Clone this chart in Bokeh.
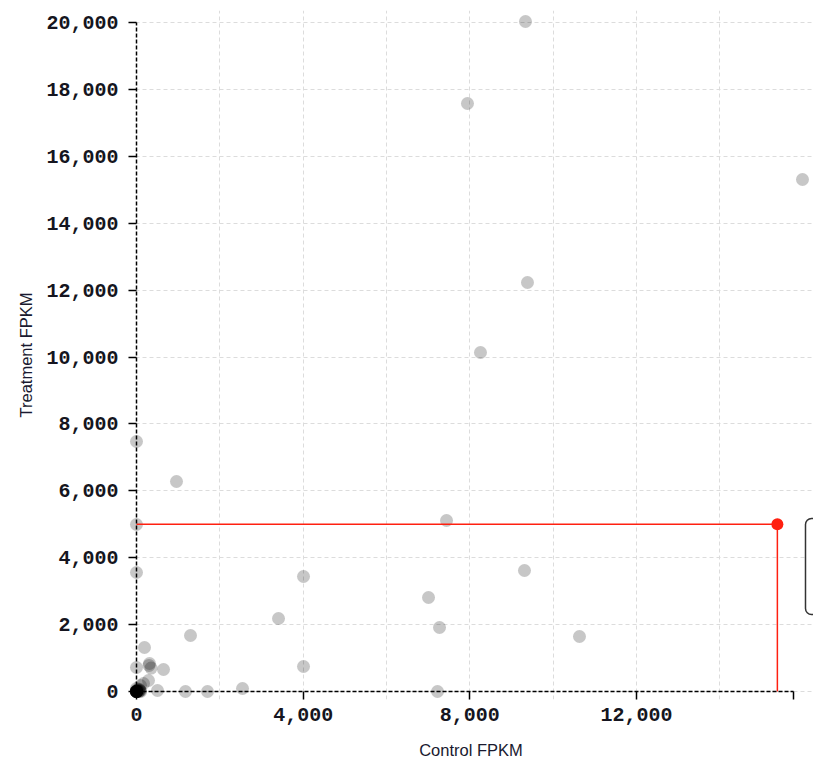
from bokeh.plotting import figure
from bokeh.models import FixedTicker, NumeralTickFormatter, Range1d, LinearAxis, BoxAnnotation
from bokeh.embed import file_html
from bokeh.resources import INLINE

# Gene expression values (FPKM)
control = [9335, 7943, 15983, 9383, 8255, 0, 960, 0, 7440, 0, 4008, 3408, 7008,
           9311, 7272, 10631, 1296, 192, 0, 312, 300, 350, 648, 4008, 288, 168,
           96, 504, 1176, 1704, 2544, 7224,
           0, 0, 0, 0, 0, 0, 0, 0, 0, 0, 0, 0, 0, 0, 0, 20, 40, 60, 80,
           100, 0, 70, 50, 0, 90]
treatment = [20030, 17578, 15306, 12227, 10135, 7474, 6278, 4993, 5112, 3558, 3438,
             2182, 2810, 3617, 1913, 1644, 1674, 1315, 717, 837, 780, 700, 658, 747,
             329, 239, 179, 30, 0, 0, 90, 0,
             0, 0, 0, 0, 0, 0, 0, 0, 0, 0, 0, 0, 0, 0, 0, 30, 10, 50, 20,
             0, 90, 70, 0, 40, 30]

# Highlighted gene
hl_control = 15380
hl_treatment = 5000

x_axis_ticks = [0, 4000, 8000, 12000, 15770]
x_label_ticks = [0, 4000, 8000, 12000]
x_grid_ticks = [2000, 4000, 6000, 8000, 10000, 12000, 14000]
y_ticks = [0, 2000, 4000, 6000, 8000, 10000, 12000, 14000, 16000, 18000, 20000]
x_domain = (0, 15770)
y_domain = (0, 20000)

p = figure(width=813, height=768, output_backend="svg", toolbar_location=None,
           title=None, x_range=Range1d(-192, 16247), y_range=Range1d(-239, 20359),
           min_border_left=128, min_border_right=0, min_border_top=10,
           min_border_bottom=69)
p.outline_line_color = None
p.background_fill_color = "white"

# grid
p.xgrid.ticker = FixedTicker(ticks=x_grid_ticks)
p.ygrid.ticker = FixedTicker(ticks=y_ticks)
for g in (p.xgrid, p.ygrid):
    g.grid_line_color = "#dcdcdc"
    g.grid_line_dash = "4 3"
    g.grid_line_width = 1

# label axes (in side panels): only tick labels and titles
xl = p.xaxis[0]
yl = p.yaxis[0]
xl.ticker = FixedTicker(ticks=x_label_ticks)
yl.ticker = FixedTicker(ticks=y_ticks)
xl.bounds = x_domain
yl.bounds = y_domain
for a in (xl, yl):
    a.formatter = NumeralTickFormatter(format="0,0")
    a.axis_line_color = None
    a.major_tick_line_color = None
    a.minor_tick_line_color = None
    a.major_tick_out = 0
    a.major_tick_in = 0
    a.major_label_text_font = "Liberation Mono"
    a.major_label_text_font_style = "bold"
    a.major_label_text_font_size = "20px"
    a.major_label_text_color = "#151520"
    a.axis_label_text_font = "Liberation Sans"
    a.axis_label_text_font_style = "normal"
    a.axis_label_text_font_size = "16.5px"
    a.axis_label_text_color = "#1a1a30"
xl.major_label_standoff = 8
yl.major_label_standoff = 10
xl.axis_label = "Control FPKM"
yl.axis_label = "Treatment FPKM"
xl.axis_label_standoff = 17
yl.axis_label_standoff = 8

# axis lines + ticks at data zero
xa = LinearAxis(fixed_location=0, ticker=FixedTicker(ticks=x_axis_ticks), bounds=x_domain)
ya = LinearAxis(fixed_location=0, ticker=FixedTicker(ticks=y_ticks), bounds=y_domain)
for a in (xa, ya):
    a.axis_line_color = "black"
    a.axis_line_dash = "4 2"
    a.axis_line_width = 1.5
    a.major_tick_line_color = "black"
    a.major_tick_line_width = 1.5
    a.major_tick_out = 9
    a.major_tick_in = 0
    a.minor_tick_line_color = None
    a.major_label_text_color = None
    a.major_label_text_font_size = "0px"
p.add_layout(xa, "below")
p.add_layout(ya, "left")

# points
p.scatter(control, treatment, size=13, fill_color="black", fill_alpha=0.22,
          line_color=None)

# highlight crosshair
p.segment(x0=[0, hl_control], y0=[hl_treatment, 0],
          x1=[hl_control, hl_control], y1=[hl_treatment, hl_treatment],
          line_color="#ff2010", line_width=1.5)
p.scatter([hl_control], [hl_treatment], size=12, fill_color="#ff2010",
          line_color=None)

# tooltip box (mostly off-screen to the right)
p.add_layout(BoxAnnotation(left=hl_control + 675, right=hl_control + 3000,
                           bottom=hl_treatment - 2700, top=hl_treatment + 170,
                           fill_color="white", fill_alpha=1, line_color="#333333",
                           line_alpha=1, line_width=1.5, border_radius=6,
                           level="overlay"))

open("out.html", "w").write(file_html(p, INLINE))
